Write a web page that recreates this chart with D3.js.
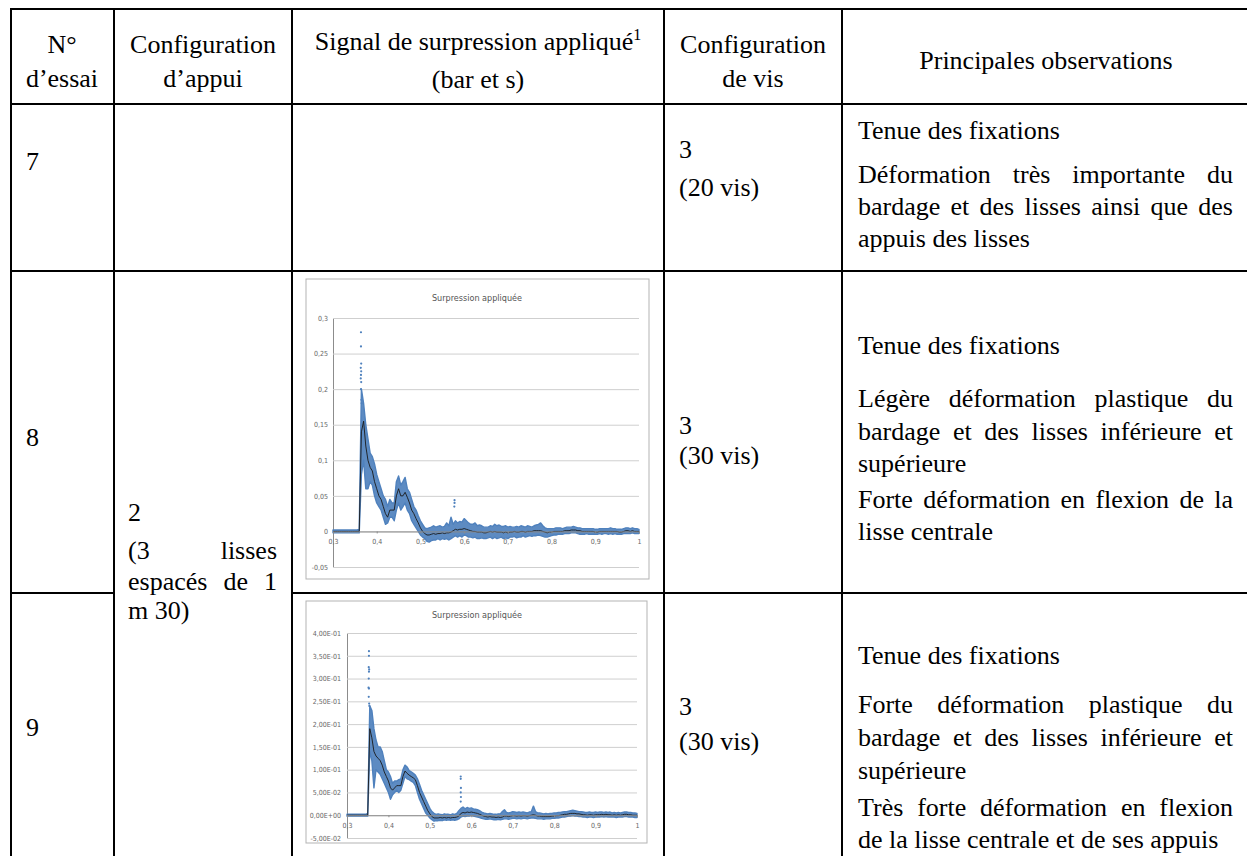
<!DOCTYPE html>
<html>
<head>
<meta charset="utf-8">
<script src="https://cdn.jsdelivr.net/npm/d3@7"></script>
<style>
  body { margin: 0; background: #fff; }
  svg { display: block; }
  .serif text, text.serif { font-family: "Liberation Serif", "Times New Roman", Tinos, "DejaVu Serif", serif; }
</style>
</head>
<body>
<script>
// ---- Tableau : en-têtes et cellules ----
const enTetes = [
  ["N°", "d’essai"],
  ["Configuration", "d’appui"],
  ["Signal de surpression appliqué", "(bar et s)"],
  ["Configuration", "de vis"],
  ["Principales observations"]
];
const essais = ["7", "8", "9"];
const configVis = [["3", "(20 vis)"], ["3", "(30 vis)"], ["3", "(30 vis)"]];
const configAppui = ["2", "(3 lisses", "espacés de 1", "m 30)"];
const observations = [
  [["Tenue des fixations", false], ["Déformation très importante du", true],
   ["bardage et des lisses ainsi que des", true], ["appuis des lisses", false]],
  [["Tenue des fixations", false], ["Légère déformation plastique du", true],
   ["bardage et des lisses inférieure et", true], ["supérieure", false],
   ["Forte déformation en flexion de la", true], ["lisse centrale", false]],
  [["Tenue des fixations", false], ["Forte déformation plastique du", true],
   ["bardage et des lisses inférieure et", true], ["supérieure", false],
   ["Très forte déformation en flexion", true], ["de la lisse centrale et de ses appuis", false]]
];

// ---- Graphiques : ticks ----
const xTicks = [0.3, 0.4, 0.5, 0.6, 0.7, 0.8, 0.9, 1];
const xLabels = ["0,3", "0,4", "0,5", "0,6", "0,7", "0,8", "0,9", "1"];
const yTicks8 = [0.3, 0.25, 0.2, 0.15, 0.1, 0.05, 0, -0.05];
const yLabels8 = ["0,3", "0,25", "0,2", "0,15", "0,1", "0,05", "0", "-0,05"];
const yTicks9 = [0.4, 0.35, 0.3, 0.25, 0.2, 0.15, 0.1, 0.05, 0, -0.05];
const yLabels9 = ["4,00E-01", "3,50E-01", "3,00E-01", "2,50E-01", "2,00E-01", "1,50E-01",
                  "1,00E-01", "5,00E-02", "0,00E+00", "-5,00E-02"];

// ---- Essai 8 : [temps s, min, moyenne, max] (bar) ----
const signal8 = [
[0.300,-0.002,0.000,0.002],[0.305,-0.002,0.000,0.002],[0.310,-0.002,0.000,0.002],[0.315,-0.002,0.000,0.002],
[0.320,-0.002,0.000,0.002],[0.325,-0.002,0.000,0.002],[0.330,-0.002,0.000,0.002],[0.335,-0.002,0.000,0.002],
[0.340,-0.002,0.000,0.002],[0.345,-0.002,0.000,0.002],[0.350,-0.002,0.000,0.002],[0.355,-0.002,0.000,0.002],
[0.360,-0.002,0.000,0.003],[0.365,0.080,0.140,0.200],[0.370,0.100,0.155,0.180],[0.375,0.060,0.120,0.150],
[0.380,0.060,0.100,0.130],[0.385,0.070,0.090,0.110],[0.390,0.065,0.085,0.105],[0.395,0.050,0.070,0.095],
[0.400,0.040,0.060,0.080],[0.405,0.035,0.050,0.070],[0.410,0.030,0.045,0.060],[0.415,0.020,0.035,0.050],
[0.420,0.010,0.025,0.045],[0.425,0.012,0.020,0.035],[0.430,0.020,0.030,0.045],[0.435,0.020,0.030,0.040],
[0.440,0.015,0.030,0.040],[0.445,0.030,0.050,0.070],[0.450,0.040,0.060,0.078],[0.455,0.030,0.050,0.065],
[0.460,0.035,0.050,0.070],[0.465,0.040,0.055,0.076],[0.470,0.030,0.048,0.060],[0.475,0.025,0.040,0.055],
[0.480,0.015,0.030,0.045],[0.485,0.010,0.025,0.035],[0.490,0.005,0.018,0.030],[0.495,0.000,0.012,0.022],
[0.500,-0.005,0.005,0.015],[0.505,-0.008,0.000,0.010],[0.510,-0.010,-0.003,0.005],[0.515,-0.014,-0.005,0.004],
[0.520,-0.015,-0.005,0.005],[0.525,-0.013,-0.004,0.006],[0.530,-0.012,-0.003,0.008],[0.535,-0.012,-0.004,0.006],
[0.540,-0.010,-0.003,0.007],[0.545,-0.012,-0.003,0.008],[0.550,-0.010,-0.002,0.006],[0.555,-0.011,-0.003,0.007],
[0.560,-0.010,-0.002,0.012],[0.565,-0.012,-0.002,0.008],[0.570,-0.010,-0.001,0.020],[0.575,-0.008,0.001,0.010],
[0.580,-0.006,0.003,0.015],[0.585,-0.008,0.002,0.012],[0.590,-0.006,0.003,0.014],[0.595,-0.008,0.003,0.013],
[0.600,-0.005,0.004,0.018],[0.605,-0.006,0.003,0.015],[0.610,-0.008,0.002,0.012],[0.615,-0.008,0.001,0.010],
[0.620,-0.009,0.000,0.010],[0.625,-0.008,0.000,0.012],[0.630,-0.010,-0.001,0.008],[0.635,-0.010,-0.001,0.009],
[0.640,-0.009,-0.001,0.008],[0.645,-0.010,-0.002,0.006],[0.650,-0.010,-0.002,0.006],[0.655,-0.009,-0.001,0.006],
[0.660,-0.008,0.000,0.008],[0.665,-0.010,-0.001,0.007],[0.670,-0.008,0.000,0.010],[0.675,-0.010,-0.001,0.008],
[0.680,-0.009,-0.001,0.009],[0.685,-0.008,-0.001,0.007],[0.690,-0.010,-0.002,0.007],[0.695,-0.009,-0.001,0.008],
[0.700,-0.010,-0.002,0.006],[0.705,-0.008,-0.001,0.007],[0.710,-0.008,-0.001,0.006],[0.715,-0.007,0.000,0.006],
[0.720,-0.009,-0.001,0.007],[0.725,-0.008,-0.001,0.006],[0.730,-0.008,0.000,0.008],[0.735,-0.006,0.000,0.007],
[0.740,-0.008,-0.001,0.006],[0.745,-0.007,0.000,0.008],[0.750,-0.006,0.000,0.007],[0.755,-0.007,0.000,0.006],
[0.760,-0.006,0.001,0.008],[0.765,-0.006,0.001,0.009],[0.770,-0.005,0.001,0.010],[0.775,-0.006,0.001,0.012],
[0.780,-0.007,0.000,0.008],[0.785,-0.008,-0.001,0.005],[0.790,-0.008,-0.002,0.004],[0.795,-0.007,-0.001,0.004],
[0.800,-0.006,-0.001,0.004],[0.805,-0.005,0.000,0.004],[0.810,-0.005,0.000,0.005],[0.815,-0.004,0.000,0.005],
[0.820,-0.004,0.000,0.005],[0.825,-0.004,0.000,0.004],[0.830,-0.003,0.001,0.005],[0.835,-0.003,0.001,0.006],
[0.840,-0.003,0.001,0.006],[0.845,-0.002,0.002,0.006],[0.850,-0.002,0.002,0.007],[0.855,-0.002,0.002,0.006],
[0.860,-0.003,0.001,0.005],[0.865,-0.004,0.001,0.005],[0.870,-0.004,0.000,0.004],[0.875,-0.004,0.000,0.004],
[0.880,-0.003,0.000,0.004],[0.885,-0.004,0.000,0.004],[0.890,-0.004,0.000,0.004],[0.895,-0.004,0.000,0.004],
[0.900,-0.004,-0.001,0.003],[0.905,-0.004,-0.001,0.003],[0.910,-0.003,0.000,0.004],[0.915,-0.004,0.000,0.004],
[0.920,-0.003,0.000,0.004],[0.925,-0.003,0.000,0.004],[0.930,-0.004,0.000,0.004],[0.935,-0.003,0.000,0.005],
[0.940,-0.004,0.000,0.004],[0.945,-0.003,0.000,0.004],[0.950,-0.004,0.000,0.003],[0.955,-0.004,-0.001,0.003],
[0.960,-0.004,-0.001,0.003],[0.965,-0.003,0.000,0.004],[0.970,-0.003,0.001,0.005],[0.975,-0.003,0.001,0.005],
[0.980,-0.003,0.000,0.004],[0.985,-0.002,0.001,0.005],[0.990,-0.003,0.000,0.004],[0.995,-0.003,0.000,0.004],
[1.000,-0.003,0.000,0.003]
];
const pics8 = [
  [0.3640,0.280],[0.3640,0.260],[0.3645,0.236],[0.3635,0.230],[0.3645,0.225],[0.3640,0.220],
  [0.3635,0.215],[0.3645,0.210],[0.3640,0.200],[0.3650,0.185],[0.3655,0.180],
  [0.5780,0.044],[0.5780,0.040],[0.5775,0.035]
];

// ---- Essai 9 : [temps s, min, moyenne, max] (bar) ----
const signal9 = [
[0.300,-0.002,0.000,0.002],[0.305,-0.002,0.000,0.002],[0.310,-0.002,0.000,0.002],[0.315,-0.002,0.000,0.002],
[0.320,-0.002,0.000,0.002],[0.325,-0.002,0.000,0.002],[0.330,-0.002,0.000,0.002],[0.335,-0.002,0.000,0.002],
[0.340,-0.002,0.000,0.002],[0.345,-0.002,0.000,0.002],[0.350,-0.002,0.000,0.004],[0.355,0.140,0.190,0.240],
[0.360,0.120,0.170,0.230],[0.365,0.060,0.140,0.190],[0.370,0.100,0.130,0.165],[0.375,0.095,0.125,0.150],
[0.380,0.090,0.120,0.150],[0.385,0.080,0.110,0.140],[0.390,0.070,0.095,0.120],[0.395,0.060,0.085,0.100],
[0.400,0.050,0.075,0.095],[0.405,0.035,0.060,0.085],[0.410,0.045,0.055,0.070],[0.415,0.050,0.060,0.075],
[0.420,0.055,0.065,0.075],[0.425,0.050,0.065,0.078],[0.430,0.055,0.065,0.080],[0.435,0.070,0.085,0.100],
[0.440,0.085,0.097,0.110],[0.445,0.080,0.092,0.106],[0.450,0.078,0.088,0.098],[0.455,0.075,0.085,0.095],
[0.460,0.072,0.082,0.092],[0.465,0.065,0.078,0.088],[0.470,0.050,0.065,0.080],[0.475,0.035,0.050,0.068],
[0.480,0.025,0.040,0.055],[0.485,0.015,0.030,0.045],[0.490,0.005,0.020,0.035],[0.495,0.000,0.010,0.025],
[0.500,-0.006,0.003,0.015],[0.505,-0.010,-0.003,0.008],[0.510,-0.013,-0.006,0.004],[0.515,-0.012,-0.006,0.002],
[0.520,-0.012,-0.006,0.003],[0.525,-0.011,-0.005,0.002],[0.530,-0.012,-0.006,0.001],[0.535,-0.010,-0.005,0.003],
[0.540,-0.011,-0.006,0.002],[0.545,-0.010,-0.005,0.002],[0.550,-0.011,-0.006,0.001],[0.555,-0.010,-0.005,0.003],
[0.560,-0.011,-0.005,0.002],[0.565,-0.010,-0.004,0.004],[0.570,-0.008,-0.002,0.010],[0.575,-0.004,0.004,0.015],
[0.580,-0.002,0.006,0.018],[0.585,-0.003,0.005,0.014],[0.590,-0.002,0.007,0.017],[0.595,-0.002,0.006,0.015],
[0.600,-0.001,0.007,0.016],[0.605,-0.002,0.006,0.014],[0.610,-0.003,0.005,0.013],[0.615,-0.004,0.004,0.012],
[0.620,-0.005,0.002,0.010],[0.625,-0.007,0.000,0.007],[0.630,-0.008,-0.002,0.005],[0.635,-0.009,-0.003,0.004],
[0.640,-0.009,-0.004,0.003],[0.645,-0.008,-0.003,0.004],[0.650,-0.009,-0.004,0.003],[0.655,-0.010,-0.004,0.002],
[0.660,-0.010,-0.005,0.002],[0.665,-0.009,-0.004,0.003],[0.670,-0.010,-0.005,0.003],[0.675,-0.009,-0.004,0.008],
[0.680,-0.008,-0.002,0.012],[0.685,-0.008,-0.002,0.006],[0.690,-0.009,-0.003,0.005],[0.695,-0.008,-0.002,0.006],
[0.700,-0.007,-0.001,0.008],[0.705,-0.007,-0.001,0.007],[0.710,-0.008,-0.002,0.006],[0.715,-0.007,-0.001,0.007],
[0.720,-0.008,-0.002,0.006],[0.725,-0.007,-0.001,0.007],[0.730,-0.007,-0.001,0.006],[0.735,-0.008,-0.002,0.005],
[0.740,-0.007,-0.001,0.007],[0.745,-0.006,0.000,0.008],[0.750,-0.006,0.001,0.020],[0.755,-0.007,0.000,0.008],
[0.760,-0.008,-0.002,0.005],[0.765,-0.008,-0.002,0.005],[0.770,-0.008,-0.003,0.004],[0.775,-0.009,-0.003,0.003],
[0.780,-0.008,-0.003,0.004],[0.785,-0.008,-0.003,0.003],[0.790,-0.008,-0.003,0.004],[0.795,-0.007,-0.002,0.004],
[0.800,-0.007,-0.002,0.005],[0.805,-0.006,-0.001,0.005],[0.810,-0.006,-0.001,0.006],[0.815,-0.005,0.000,0.006],
[0.820,-0.004,0.001,0.007],[0.825,-0.004,0.002,0.008],[0.830,-0.003,0.002,0.008],[0.835,-0.002,0.003,0.009],
[0.840,-0.002,0.004,0.010],[0.845,-0.001,0.004,0.011],[0.850,-0.002,0.004,0.010],[0.855,-0.002,0.003,0.009],
[0.860,-0.003,0.003,0.008],[0.865,-0.003,0.002,0.008],[0.870,-0.004,0.001,0.007],[0.875,-0.004,0.001,0.006],
[0.880,-0.005,0.000,0.006],[0.885,-0.004,0.001,0.007],[0.890,-0.004,0.001,0.006],[0.895,-0.005,0.000,0.006],
[0.900,-0.004,0.001,0.007],[0.905,-0.004,0.001,0.006],[0.910,-0.004,0.001,0.007],[0.915,-0.003,0.002,0.007],
[0.920,-0.004,0.001,0.006],[0.925,-0.003,0.002,0.007],[0.930,-0.004,0.001,0.006],[0.935,-0.004,0.001,0.007],
[0.940,-0.004,0.000,0.005],[0.945,-0.004,0.001,0.006],[0.950,-0.005,0.000,0.005],[0.955,-0.004,0.001,0.006],
[0.960,-0.004,0.000,0.005],[0.965,-0.004,0.001,0.006],[0.970,-0.003,0.002,0.007],[0.975,-0.003,0.002,0.007],
[0.980,-0.004,0.001,0.006],[0.985,-0.004,0.001,0.006],[0.990,-0.004,0.000,0.005],[0.995,-0.005,0.000,0.005],
[1.000,-0.005,0.000,0.004]
];
const pics9 = [
  [0.3530,0.360],[0.3530,0.350],[0.3525,0.325],[0.3535,0.320],[0.3530,0.315],[0.3525,0.300],
  [0.3520,0.280],[0.3530,0.278],[0.3525,0.260],[0.3535,0.245],[0.3540,0.240],
  [0.5745,0.085],[0.5745,0.080],[0.5750,0.060],[0.5745,0.050],[0.5750,0.040],[0.5745,0.030]
];

// ---- Mise en page ----
const W = 1247, H = 856;
const colX = [11, 114, 292, 664, 842, 1252];
const rowY = [9, 104, 271, 593, 860];
const narrow = "'Liberation Sans Narrow', 'DejaVu Sans Condensed', 'Open Sans', sans-serif";
const blue = "#4f81bd";

const svg = d3.select("body").append("svg")
    .attr("width", W)
    .attr("height", H)
    .style("background", "#fff");

// Bordures du tableau
const lines = svg.append("g")
    .attr("stroke", "#000")
    .attr("stroke-width", 2);
[rowY[0], rowY[1], rowY[2]].forEach(y => {
  lines.append("line").attr("x1", colX[0] - 1).attr("x2", colX[5]).attr("y1", y).attr("y2", y);
});
// ligne 8/9 : la cellule d'appui est fusionnée
lines.append("line").attr("x1", colX[0] - 1).attr("x2", colX[1]).attr("y1", rowY[3]).attr("y2", rowY[3]);
lines.append("line").attr("x1", colX[2]).attr("x2", colX[5]).attr("y1", rowY[3]).attr("y2", rowY[3]);
colX.slice(0, 5).forEach(x => {
  lines.append("line").attr("x1", x).attr("x2", x).attr("y1", rowY[0] - 1).attr("y2", rowY[4]);
});

// Texte du tableau
const txt = svg.append("g")
    .attr("class", "serif")
    .attr("font-size", 26)
    .attr("fill", "#000");

function centered(str, x, y) {
  return txt.append("text").attr("x", x).attr("y", y).attr("text-anchor", "middle").text(str);
}
function left(str, x, y) {
  return txt.append("text").attr("x", x).attr("y", y).text(str);
}
function justify(str, x0, x1, y) {
  const words = str.split(" ");
  const nodes = words.map(w => txt.append("text").attr("y", y).text(w));
  const widths = nodes.map(n => n.node().getComputedTextLength());
  const gap = words.length > 1 ? (x1 - x0 - d3.sum(widths)) / (words.length - 1) : 0;
  let x = x0;
  nodes.forEach((n, i) => { n.attr("x", x); x += widths[i] + gap; });
}

// En-têtes
const centres = [62, 203, 478, 753, 1046];
const headBase = [[53, 87], [53, 87], [50, 88], [53, 87], [69]];
enTetes.forEach((h, i) => {
  h.forEach((s, j) => {
    const t = centered(s, centres[i], headBase[i][j]);
    if (i === 2 && j === 0) {
      t.append("tspan").attr("dy", -10).attr("font-size", 16).text("1");
    }
  });
});

// Colonne N° d'essai
const essaiBase = [170, 446, 736];
essais.forEach((e, i) => left(e, 26, essaiBase[i]));

// Configuration de vis
const visBase = [[158, 196], [434, 464], [715, 750]];
configVis.forEach((c, i) => c.forEach((s, j) => left(s, 679, visBase[i][j])));

// Configuration d'appui (cellule fusionnée 8-9)
left(configAppui[0], 128, 521);
justify(configAppui[1], 128, 277, 559);
justify(configAppui[2], 128, 277, 590);
left(configAppui[3], 128, 619);

// Observations
const obsBase = [
  [139, 183, 215, 247],
  [354, 407, 440, 472, 508, 540],
  [664, 713, 746, 779, 816, 848]
];
observations.forEach((rows, i) => {
  rows.forEach(([s, just], j) => {
    if (just) justify(s, 858, 1233, obsBase[i][j]);
    else left(s, 858, obsBase[i][j]);
  });
});

// ---- Graphiques ----
function drawChart(cfg) {
  const g = svg.append("g");
  g.append("rect")
      .attr("x", cfg.frame[0]).attr("y", cfg.frame[1])
      .attr("width", cfg.frame[2] - cfg.frame[0])
      .attr("height", cfg.frame[3] - cfg.frame[1])
      .attr("fill", "#fff")
      .attr("stroke", "#b3b3b3")
      .attr("stroke-width", 1);

  g.append("text")
      .attr("x", cfg.titleX).attr("y", cfg.titleY)
      .attr("text-anchor", "middle")
      .style("font-family", narrow)
      .style("font-size", "9px")
      .attr("fill", "#555")
      .text("Surpression appliquée");

  const x = d3.scaleLinear().domain([0.3, 1]).range(cfg.xr);
  const y = d3.scaleLinear().domain(cfg.ydom).range(cfg.yr);

  // Grille + axe vertical
  const yAxis = g.append("g")
      .attr("transform", `translate(${cfg.xr[0]},0)`)
      .call(d3.axisLeft(y)
        .tickValues(cfg.yTicks)
        .tickSize(-(cfg.xr[1] - cfg.xr[0]))
        .tickPadding(cfg.pad)
        .tickFormat((d, i) => cfg.yLabels[i]));
  yAxis.select(".domain").attr("stroke", "#8c8c8c");
  yAxis.selectAll(".tick line").attr("stroke", "#cfcfcf");
  yAxis.selectAll("text")
      .style("font-family", narrow)
      .style("font-size", "7px")
      .attr("fill", "#666");

  // Bande min-max du signal (nuage de points)
  const sig = cfg.signal;
  g.append("path")
      .datum(sig)
      .attr("fill", blue)
      .attr("fill-opacity", 0.92)
      .attr("stroke", blue)
      .attr("stroke-width", 1.4)
      .attr("stroke-linejoin", "round")
      .attr("d", d3.area()
        .x(d => x(d[0]))
        .y0(d => y(d[1]))
        .y1(d => y(d[3])));

  // Points isolés (pics)
  g.append("g").selectAll("circle")
      .data(cfg.pics)
    .enter().append("circle")
      .attr("cx", d => x(d[0]))
      .attr("cy", d => y(d[1]))
      .attr("r", 1.1)
      .attr("fill", blue);

  // Signal moyen
  g.append("path")
      .datum(sig)
      .attr("fill", "none")
      .attr("stroke", "#1a1a1a")
      .attr("stroke-width", 0.9)
      .attr("d", d3.line().x(d => x(d[0])).y(d => y(d[2])));

  // Axe horizontal à y = 0
  const xAxis = g.append("g")
      .attr("transform", `translate(0,${y(0)})`)
      .call(d3.axisBottom(x)
        .tickValues(xTicks)
        .tickSize(2)
        .tickPadding(cfg.xpad)
        .tickFormat((d, i) => xLabels[i]));
  xAxis.select(".domain").attr("stroke", "#8c8c8c");
  xAxis.selectAll(".tick line").attr("stroke", "#8c8c8c");
  xAxis.selectAll("text")
      .style("font-family", narrow)
      .style("font-size", "7px")
      .attr("fill", "#666");
}

drawChart({
  frame: [306, 279, 649, 579],
  titleX: 477, titleY: 301,
  xr: [333, 639], ydom: [-0.05, 0.3], yr: [567, 318],
  yTicks: yTicks8, yLabels: yLabels8, pad: 5, xpad: 6,
  signal: signal8, pics: pics8
});

drawChart({
  frame: [306, 601, 647, 843],
  titleX: 477, titleY: 618,
  xr: [347, 637], ydom: [-0.05, 0.4], yr: [838, 633],
  yTicks: yTicks9, yLabels: yLabels9, pad: 6, xpad: 6,
  signal: signal9, pics: pics9
});
</script>
</body>
</html>
